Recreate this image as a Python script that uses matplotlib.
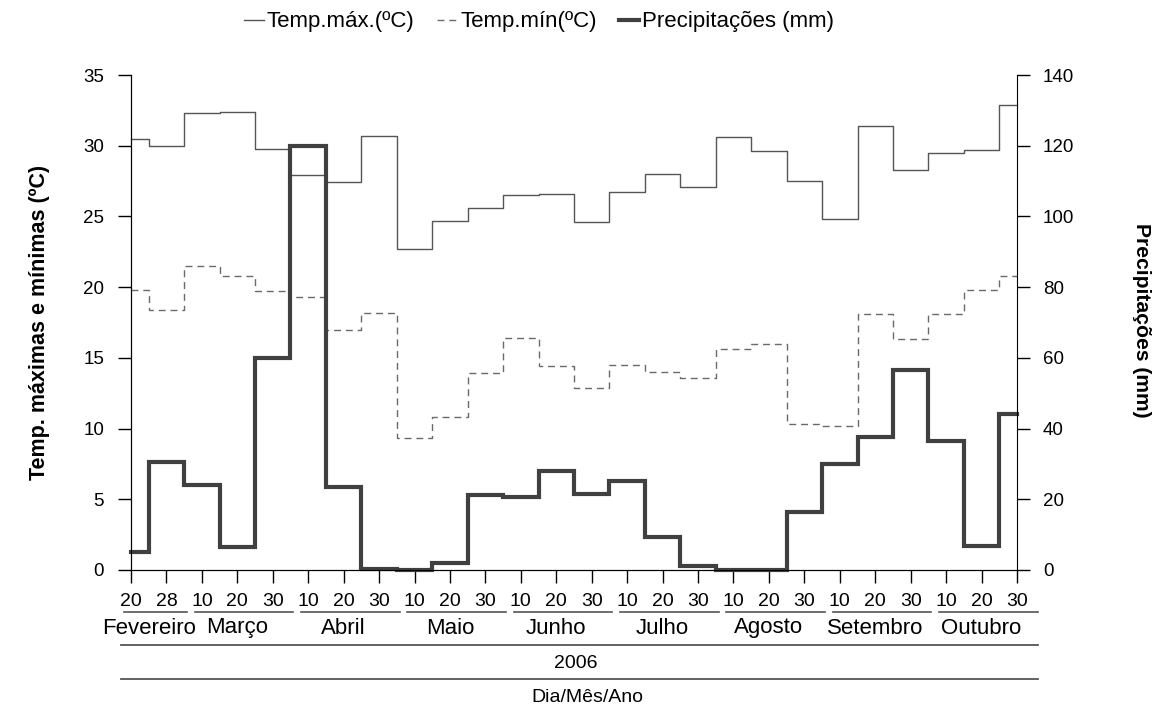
import numpy as np
import matplotlib
matplotlib.use("Agg")
import matplotlib.pyplot as plt
from matplotlib.lines import Line2D
from matplotlib.transforms import blended_transform_factory

plt.rcParams['font.family'] = ['Liberation Sans', 'DejaVu Sans']

# ten-day periods, 20 Feb .. 30 Oct 2006
day_labels = ["20", "28",
              "10", "20", "30", "10", "20", "30", "10", "20", "30",
              "10", "20", "30", "10", "20", "30", "10", "20", "30",
              "10", "20", "30", "10", "20", "30"]
months = ["Fevereiro", "Março", "Abril", "Maio", "Junho", "Julho",
          "Agosto", "Setembro", "Outubro"]
month_counts = [2, 3, 3, 3, 3, 3, 3, 3, 3]
year_label = "2006"

tmax = [30.5, 30.0, 32.3, 32.4, 29.8, 27.9, 27.4, 30.7, 22.7, 24.7, 25.6,
        26.5, 26.6, 24.6, 26.7, 28.0, 27.1, 30.6, 29.6, 27.5, 24.8, 31.4,
        28.3, 29.5, 29.7, 32.9]
tmin = [19.8, 18.4, 21.5, 20.8, 19.7, 19.3, 17.0, 18.2, 9.3, 10.8, 13.9,
        16.4, 14.4, 12.9, 14.5, 14.0, 13.6, 15.6, 16.0, 10.3, 10.2, 18.1,
        16.3, 18.1, 19.8, 20.8]
precip = [5.2, 30.6, 24.0, 6.4, 60.0, 120.0, 23.6, 0.2, 0.1, 1.9, 21.1,
          20.6, 28.0, 21.6, 25.3, 9.3, 1.2, 0.0, 0.0, 16.5, 30.1, 37.7,
          56.5, 36.5, 6.9, 44.1]

W, H = 1156, 707
fig = plt.figure(figsize=(W / 100, H / 100), dpi=100)

def fx(px):
    return px / W

def fy(py):
    return 1 - py / H

ax = fig.add_axes([fx(131), fy(570), fx(1017 - 131), (570 - 75) / H])
ax2 = ax.twinx()

x = np.arange(len(tmax))
l1, = ax.step(x, tmax, where='mid', color='#555555', lw=1.0, clip_on=False)
l2, = ax.step(x, tmin, where='mid', color='#6a6a6a', lw=1.0,
              dashes=(5, 3.5), clip_on=False)
l3, = ax2.step(x, precip, where='mid', color='#404040', lw=3.0,
               clip_on=False, solid_joinstyle='miter')

ax.set_xlim(0, len(tmax) - 1)
ax.set_ylim(0, 35)
ax.set_yticks(np.arange(0, 36, 5))
ax2.set_ylim(0, 140)
ax2.set_yticks(np.arange(0, 141, 20))

for a in (ax, ax2):
    a.spines['top'].set_visible(False)
ax.spines['right'].set_visible(False)
ax.set_xticks(x)
ax.set_xticklabels([])
ax.tick_params(axis='x', length=9.4, width=1, direction='out')
ax.tick_params(axis='y', length=9.4, width=1, pad=10, labelsize=13.5)
ax2.tick_params(axis='y', length=9.4, width=1, pad=9.4, labelsize=13.5)

# axis titles
fig.text(fx(40), fy(322), "Temp. máximas e mínimas (ºC)", fontsize=15.5,
         fontweight='bold', rotation=90, ha='center', va='center')
fig.text(fx(1141), fy(320), "Precipitações (mm)", fontsize=15.2,
         fontweight='bold', rotation=270, ha='center', va='center')

# hierarchical x labels below the axis
tr = blended_transform_factory(ax.transData, fig.transFigure)
for i, lab in enumerate(day_labels):
    ax.text(i, fy(602), lab, transform=tr, ha='center', va='center',
            fontsize=14)

start = 0
for m, n in zip(months, month_counts):
    first, last = start, start + n - 1
    ax.plot([first - 0.2, last + 0.58], [fy(612), fy(612)], transform=tr,
            color='#555555', lw=1.2, clip_on=False)
    ax.text((first + last) / 2, fy(628), m, transform=tr, ha='center',
            va='center', fontsize=16)
    start += n

fig.add_artist(Line2D([fx(121), fx(1038)], [fy(645), fy(645)],
                      color='#555555', lw=1.3))
fig.text(fx(576), fy(663), year_label, ha='center', va='center', fontsize=14)
fig.add_artist(Line2D([fx(121), fx(1038)], [fy(679), fy(679)],
                      color='#555555', lw=1.3))
fig.text(fx(587), fy(697), "Dia/Mês/Ano", ha='center', va='center',
         fontsize=14)

fig.legend([l1, l2, l3],
           ["Temp.máx.(ºC)", "Temp.mín(ºC)", "Precipitações (mm)"],
           loc='center', bbox_to_anchor=(fx(539), fy(22)), ncol=3,
           frameon=False, fontsize=16, handlelength=0.9,
           handletextpad=0.15, columnspacing=1.0)

fig.savefig("out.png", dpi=100)
